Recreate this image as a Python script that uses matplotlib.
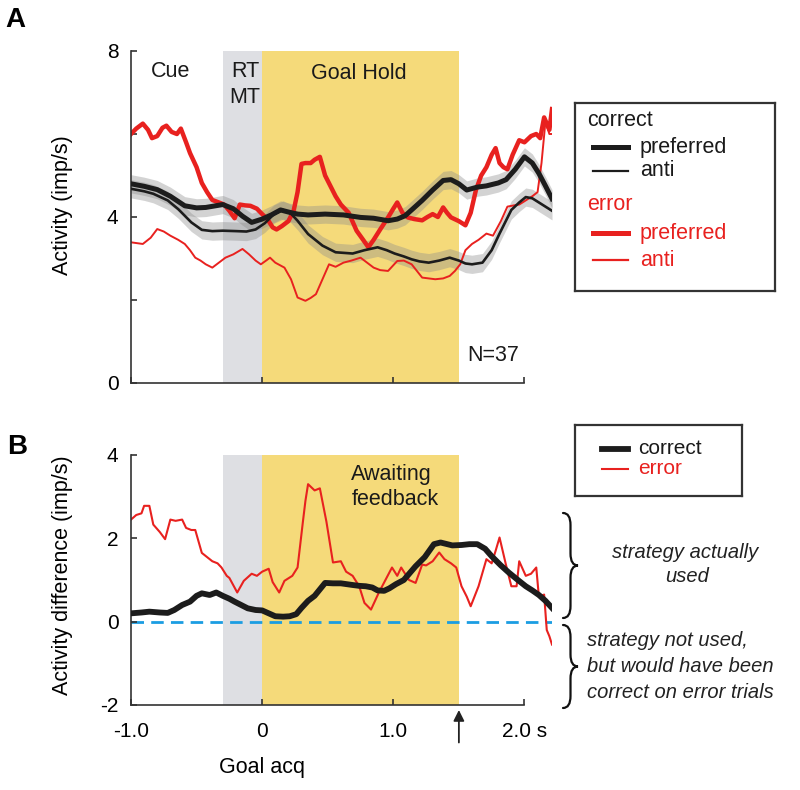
import matplotlib
matplotlib.use("Agg")
import matplotlib.pyplot as plt
from matplotlib.path import Path
from matplotlib.patches import PathPatch

plt.rcParams['font.family'] = ['Liberation Sans', 'DejaVu Sans']

# ---- data ----
# panel A: activity, correct trials
t_cp = [-1.0, -0.9, -0.8, -0.7, -0.59, -0.5, -0.43, -0.3, -0.22, -0.15, -0.08, 0.0, 0.07,
        0.14, 0.2, 0.27, 0.35, 0.48, 0.62, 0.75, 0.85, 0.96, 1.03, 1.09, 1.15, 1.22, 1.3,
        1.38, 1.44, 1.5, 1.56, 1.64, 1.71, 1.8, 1.86, 1.93, 2.0, 2.06, 2.11, 2.16, 2.21]
y_cp = [4.80, 4.74, 4.66, 4.5, 4.27, 4.22, 4.23, 4.30, 4.2, 4.02, 3.87, 3.95, 4.05,
        4.17, 4.12, 4.07, 4.05, 4.07, 4.05, 3.99, 3.97, 3.91, 3.95, 4.03, 4.2, 4.4, 4.65,
        4.88, 4.9, 4.8, 4.65, 4.72, 4.75, 4.82, 4.9, 5.15, 5.45, 5.3, 5.05, 4.75, 4.44]

t_ca = [-1.0, -0.9, -0.83, -0.72, -0.64, -0.54, -0.46, -0.38, -0.3, -0.2, -0.12, -0.05,
        0.02, 0.09, 0.16, 0.22, 0.27, 0.35, 0.46, 0.56, 0.69, 0.78, 0.88, 0.95, 1.01, 1.08,
        1.14, 1.2, 1.27, 1.35, 1.43, 1.5, 1.55, 1.6, 1.68, 1.75, 1.81, 1.9, 1.96, 2.01,
        2.06, 2.11, 2.16, 2.21]
y_ca = [4.68, 4.62, 4.56, 4.4, 4.19, 3.87, 3.69, 3.66, 3.67, 3.66, 3.65, 3.7,
        3.85, 4.07, 4.17, 4.08, 3.91, 3.59, 3.31, 3.15, 3.12, 3.2, 3.27, 3.2, 3.12, 3.05,
        2.98, 2.93, 2.9, 2.95, 3.02, 2.95, 2.88, 2.86, 2.9, 3.2, 3.6, 4.17, 4.35, 4.48,
        4.45, 4.35, 4.25, 4.15]

# panel A: activity, error trials
t_ep = [-1.0, -0.96, -0.91, -0.87, -0.84, -0.8, -0.76, -0.73, -0.69, -0.65, -0.62, -0.58,
        -0.55, -0.5, -0.46, -0.42, -0.38, -0.33, -0.29, -0.25, -0.21, -0.17, -0.13, -0.09,
        -0.04, 0.0, 0.04, 0.08, 0.11, 0.15, 0.2, 0.24, 0.27, 0.3, 0.33, 0.37, 0.4, 0.44,
        0.48, 0.52, 0.56, 0.6, 0.66, 0.72, 0.77, 0.81, 0.85, 0.9, 0.96, 1.0, 1.03, 1.07,
        1.11, 1.16, 1.22, 1.26, 1.3, 1.34, 1.38, 1.41, 1.44, 1.5, 1.55, 1.59, 1.63, 1.67,
        1.71, 1.75, 1.78, 1.81, 1.84, 1.87, 1.91, 1.96, 2.0, 2.05, 2.09, 2.12, 2.15, 2.19,
        2.21]
y_ep = [6.0, 6.13, 6.25, 6.1, 5.9, 5.95, 6.15, 6.2, 6.05, 6.0, 6.13, 5.8,
        5.54, 5.2, 4.82, 4.6, 4.41, 4.35, 4.3, 4.15, 3.97, 4.3, 4.28, 4.27,
        4.2, 4.07, 3.95, 3.75, 3.7, 3.78, 3.9, 4.15, 4.6, 5.28, 5.3, 5.3, 5.38, 5.45,
        5.0, 4.75, 4.5, 4.3, 4.1, 3.67, 3.45, 3.27, 3.45, 3.7, 3.99, 4.2, 4.35, 4.1,
        3.99, 3.95, 3.92, 4.0, 4.07, 4.0, 4.23, 4.1, 3.99, 3.9, 3.8, 4.1, 4.65, 5.0,
        5.2, 5.5, 5.66, 5.3, 5.2, 5.15, 5.5, 5.85, 5.8, 5.95, 6.0, 5.9, 6.4, 6.1,
        6.6]

t_ea = [-1.0, -0.91, -0.85, -0.8, -0.75, -0.7, -0.64, -0.59, -0.55, -0.51, -0.47, -0.43,
        -0.38, -0.33, -0.28, -0.22, -0.15, -0.1, -0.05, -0.01, 0.03, 0.06, 0.1, 0.17, 0.22,
        0.27, 0.33, 0.37, 0.41, 0.46, 0.51, 0.56, 0.62, 0.68, 0.75, 0.8, 0.85, 0.9, 0.96,
        1.03, 1.08, 1.14, 1.18, 1.22, 1.27, 1.32, 1.38, 1.43, 1.47, 1.51, 1.55, 1.6, 1.65,
        1.71, 1.76, 1.82, 1.87, 1.92, 1.96, 2.01, 2.06, 2.1, 2.13, 2.16, 2.19, 2.21]
y_ea = [3.39, 3.35, 3.5, 3.71, 3.65, 3.55, 3.45, 3.35, 3.2, 3.02, 2.95, 2.86,
        2.78, 2.9, 3.02, 3.1, 3.23, 3.1, 2.95, 2.86, 2.95, 3.02, 2.9, 2.78, 2.5,
        2.06, 1.98, 2.05, 2.14, 2.5, 2.86, 2.8, 2.9, 2.95, 3.02, 2.9, 2.78, 2.72, 2.7,
        2.94, 2.95, 2.86, 2.7, 2.54, 2.52, 2.5, 2.52, 2.58, 2.7, 2.86, 3.2, 3.35, 3.45,
        3.6, 3.55, 3.9, 4.25, 4.28, 4.3, 4.4, 4.5, 4.6, 5.3, 6.3, 6.0, 6.0]

sem_a = 0.22  # half-width of the grey band around the correct-trial curves

# panel B: activity difference (preferred - anti)
t_bc = [-1.0, -0.92, -0.86, -0.78, -0.72, -0.67, -0.61, -0.55, -0.5, -0.46, -0.4, -0.35,
        -0.3, -0.25, -0.21, -0.16, -0.11, -0.05, 0.0, 0.05, 0.1, 0.16, 0.21, 0.26, 0.3,
        0.35, 0.4, 0.48, 0.54, 0.6, 0.69, 0.74, 0.79, 0.84, 0.88, 0.93, 0.97, 1.02, 1.08,
        1.17, 1.24, 1.31, 1.36, 1.45, 1.52, 1.58, 1.64, 1.7, 1.75, 1.82, 1.88, 1.95, 2.01,
        2.06, 2.11, 2.16, 2.21]
y_bc = [0.2, 0.22, 0.24, 0.22, 0.21, 0.28, 0.4, 0.48, 0.62, 0.68, 0.64, 0.7,
        0.62, 0.55, 0.48, 0.4, 0.32, 0.28, 0.27, 0.2, 0.13, 0.12, 0.13, 0.18, 0.33,
        0.5, 0.62, 0.93, 0.92, 0.92, 0.88, 0.86, 0.85, 0.82, 0.75, 0.74, 0.8, 0.9, 1.0,
        1.33, 1.55, 1.86, 1.9, 1.83, 1.84, 1.86, 1.86, 1.75, 1.57, 1.35, 1.18, 1.0, 0.85,
        0.75, 0.64, 0.5, 0.33]

t_be = [-1.0, -0.96, -0.92, -0.9, -0.86, -0.83, -0.78, -0.74, -0.7, -0.66, -0.61, -0.58,
        -0.54, -0.51, -0.46, -0.42, -0.38, -0.34, -0.31, -0.27, -0.25, -0.19, -0.14, -0.08,
        -0.04, 0.0, 0.05, 0.08, 0.1, 0.13, 0.17, 0.23, 0.27, 0.31, 0.33, 0.35, 0.4, 0.44,
        0.49, 0.54, 0.6, 0.64, 0.69, 0.74, 0.78, 0.83, 0.89, 0.94, 0.99, 1.03, 1.06, 1.12,
        1.17, 1.22, 1.25, 1.3, 1.35, 1.39, 1.44, 1.48, 1.52, 1.56, 1.59, 1.65, 1.71, 1.75,
        1.78, 1.81, 1.86, 1.9, 1.94, 1.96, 2.01, 2.05, 2.09, 2.11, 2.15, 2.17, 2.19, 2.21]
y_be = [2.45, 2.56, 2.6, 2.78, 2.78, 2.33, 2.15, 1.98, 2.45, 2.42, 2.45, 2.25,
        2.2, 2.2, 1.65, 1.55, 1.45, 1.4, 1.3, 1.1, 1.05, 0.7, 0.98, 1.15,
        1.1, 1.2, 1.27, 0.95, 0.85, 0.7, 0.98, 1.1, 1.3, 2.38, 2.9, 3.3, 3.15, 3.2,
        2.4, 1.42, 1.45, 1.2, 1.1, 0.85, 0.45, 0.29, 0.7, 1.0, 1.3, 1.1, 1.3, 1.0,
        0.93, 1.37, 1.35, 1.45, 1.66, 1.5, 1.4, 1.3, 0.85, 0.6, 0.37, 0.85, 1.5, 1.4,
        1.7, 2.02, 1.35, 0.85, 0.85, 1.45, 1.1, 1.15, 1.3, 0.6, 0.65, -0.2, -0.35, -0.55]

# task epochs (s, relative to goal acquisition)
rt_mt = (-0.3, 0.0)
goal_hold = (0.0, 1.5)
feedback_t = 1.5

# ---- styles ----
RED = '#e8211f'
BLACK = '#1c1c1c'
YELLOW = '#f5da7a'
GREY = '#dedfe3'
BLUE = '#1b9de2'
SPINE = '#333333'

W, H = 800, 790
fig = plt.figure(figsize=(W / 100, H / 100), dpi=100)


def px_axes(left, top, right, bottom):
    return fig.add_axes([left / W, 1 - bottom / H, (right - left) / W, (bottom - top) / H])


def style_axes(ax, xbounds, ybounds):
    for s in ('top', 'right'):
        ax.spines[s].set_visible(False)
    for s in ('left', 'bottom'):
        ax.spines[s].set_color(SPINE)
        ax.spines[s].set_linewidth(1.2)
    ax.spines['bottom'].set_bounds(*xbounds)
    ax.spines['left'].set_bounds(*ybounds)
    ax.tick_params(direction='in', length=4, width=1.2, color=SPINE,
                   labelsize=15, pad=9)
    ax.set_xlim(-1.0, 2.21)


def epochs(ax, ylo, yhi):
    ax.fill_between(rt_mt, ylo, yhi, color=GREY, lw=0, zorder=0)
    ax.fill_between(goal_hold, ylo, yhi, color=YELLOW, lw=0, zorder=0)


# ---- panel A ----
axA = px_axes(131, 51, 552, 383)
epochs(axA, 0, 8)
for t, y, lw in ((t_cp, y_cp, 3.6), (t_ca, y_ca, 1.9)):
    axA.fill_between(t, [v - sem_a for v in y], [v + sem_a for v in y],
                     color='#8c8c8c', alpha=0.38, lw=0, zorder=1)
    axA.plot(t, y, color=BLACK, lw=lw, zorder=3, solid_joinstyle='round')
axA.plot(t_ep, y_ep, color=RED, lw=3.2, zorder=2, solid_joinstyle='round')
axA.plot(t_ea, y_ea, color=RED, lw=1.4, zorder=2)
axA.set_ylim(0, 8)
axA.set_yticks([0, 2, 4, 6, 8])
axA.set_yticklabels(['0', '', '4', '', '8'])
axA.set_xticks([-1, 0, 1, 2])
axA.set_xticklabels([])
style_axes(axA, (-1, 2), (0, 8))
axA.set_ylabel('Activity (imp/s)', fontsize=15.5)
axA.yaxis.set_label_coords(-0.138, 0.536)

txt = dict(fontsize=15.5, color='#1a1a1a', ha='center', va='center')
axA.text(-0.70, 7.5, 'Cue', **txt)
axA.text(-0.13, 7.5, 'RT', **txt)
axA.text(-0.13, 6.88, 'MT', **txt)
axA.text(0.74, 7.45, 'Goal Hold', **txt)
axA.text(1.76, 0.67, 'N=37', **txt)

# ---- panel B ----
axB = px_axes(131, 455, 552, 705)
epochs(axB, -2, 4)
axB.axhline(0, color=BLUE, lw=2, dashes=(4.5, 2.6), zorder=1)
axB.plot(t_be, y_be, color=RED, lw=1.5, zorder=2)
axB.plot(t_bc, y_bc, color=BLACK, lw=4.2, zorder=3, solid_joinstyle='round')
axB.set_ylim(-2, 4)
axB.set_yticks([-2, 0, 2, 4])
axB.set_yticklabels(['-2', '0', '2', '4'])
axB.set_xticks([-1, 0, 1, 2])
axB.set_xticklabels(['-1.0', '0', '1.0', '2.0 s'])
style_axes(axB, (-1, 2), (-2, 4))
axB.tick_params(axis='x', pad=12)
axB.set_ylabel('Activity difference (imp/s)', fontsize=15.5)
axB.yaxis.set_label_coords(-0.138, 0.52)
axB.text(0.68, 3.52, 'Awaiting', fontsize=15.5, color='#1a1a1a', ha='left', va='center')
axB.text(0.68, 2.94, 'feedback', fontsize=15.5, color='#1a1a1a', ha='left', va='center')
axB.text(0.0, -0.252, 'Goal acq', fontsize=15.5, ha='center', va='center',
         transform=axB.get_xaxis_transform())
axB.annotate('', xy=(feedback_t, -0.02), xytext=(feedback_t, -0.15),
             xycoords=axB.get_xaxis_transform(), textcoords=axB.get_xaxis_transform(),
             arrowprops=dict(arrowstyle='-|>', color='#222222', lw=1.3,
                             mutation_scale=16, shrinkA=0, shrinkB=0),
             annotation_clip=False)

# ---- panel letters ----
fig.text(5 / W, 1 - 33 / H, 'A', fontsize=20, fontweight='bold', va='bottom')
fig.text(7 / W, 1 - 460 / H, 'B', fontsize=20, fontweight='bold', va='bottom')

# ---- legend A (drawn in pixel coordinates) ----
legA = px_axes(575, 103, 775, 291)
legA.set_xlim(575, 775)
legA.set_ylim(291, 103)
legA.set_xticks([])
legA.set_yticks([])
for s in legA.spines.values():
    s.set_color(SPINE)
    s.set_linewidth(1.6)
lt = dict(fontsize=15.5, va='center', ha='left')
legA.text(587, 120, 'correct', color='#1a1a1a', **lt)
legA.plot([593, 628], [147, 147], color=BLACK, lw=3.6)
legA.text(640, 147, 'preferred', color='#1a1a1a', **lt)
legA.plot([593, 628], [171, 171], color=BLACK, lw=1.6)
legA.text(640, 171, 'anti', color='#1a1a1a', **lt)
legA.text(587, 205, 'error', color=RED, **lt)
legA.plot([593, 628], [233, 233], color=RED, lw=3.6)
legA.text(640, 233, 'preferred', color=RED, **lt)
legA.plot([593, 628], [260, 260], color=RED, lw=1.6)
legA.text(640, 260, 'anti', color=RED, **lt)

# ---- legend B ----
legB = px_axes(575, 425, 742, 496)
legB.set_xlim(575, 742)
legB.set_ylim(496, 425)
legB.set_xticks([])
legB.set_yticks([])
for s in legB.spines.values():
    s.set_color(SPINE)
    s.set_linewidth(1.6)
lb = dict(fontsize=15, va='center', ha='left')
legB.plot([602, 628], [449, 449], color=BLACK, lw=4.2)
legB.text(638, 448, 'correct', color='#1a1a1a', **lb)
legB.plot([602, 628], [469, 469], color=RED, lw=1.5)
legB.text(638, 469, 'error', color=RED, **lb)


# ---- braces and their notes ----
def brace(x0, ytop, ybot, w):
    ym = (ytop + ybot) / 2
    r = min(12, (ybot - ytop) / 4)
    xm = x0 + w / 2
    pts = [(x0, ytop), (xm, ytop), (xm, ytop + r), (xm, ym - r), (xm, ym), (x0 + w, ym),
           (xm, ym), (xm, ym + r), (xm, ybot - r), (xm, ybot), (x0, ybot)]
    codes = [Path.MOVETO, Path.CURVE3, Path.CURVE3, Path.LINETO, Path.CURVE3, Path.CURVE3,
             Path.CURVE3, Path.CURVE3, Path.LINETO, Path.CURVE3, Path.CURVE3]
    verts = [(x / W, 1 - y / H) for x, y in pts]
    fig.add_artist(PathPatch(Path(verts, codes), fc='none', ec='#111111', lw=1.6,
                             transform=fig.transFigure, capstyle='round'))


brace(563, 513, 618, 15)
brace(563, 625, 708, 15)

it = dict(fontsize=14.5, style='italic', color='#222222')
fig.text(685 / W, 1 - 552 / H, 'strategy actually', ha='center', va='center', **it)
fig.text(687 / W, 1 - 577 / H, 'used', ha='center', va='center', **it)
fig.text(587 / W, 1 - 640 / H, 'strategy not used,', ha='left', va='center', **it)
fig.text(587 / W, 1 - 666 / H, 'but would have been', ha='left', va='center', **it)
fig.text(587 / W, 1 - 692 / H, 'correct on error trials', ha='left', va='center', **it)

fig.savefig('out.png', dpi=100)
